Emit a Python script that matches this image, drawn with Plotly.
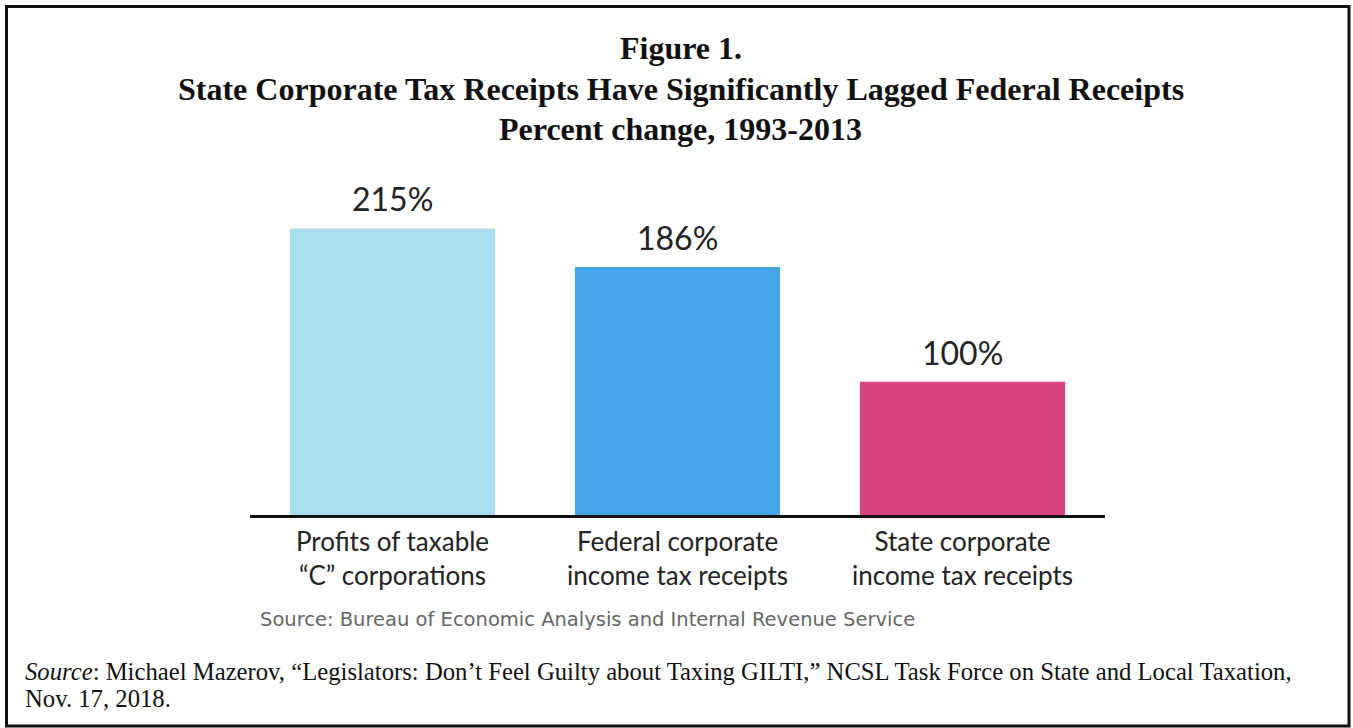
import plotly.graph_objects as go

categories = ["Profits of taxable<br>\u201cC\u201d corporations",
              "Federal corporate<br>income tax receipts",
              "State corporate<br>income tax receipts"]
values = [215, 186, 100]
value_labels = ["215%", "186%", "100%"]
bar_colors = ["#a9ddf1", "#47a6e8", "#d8437e"]

title_lines = ["Figure 1.",
               "State Corporate Tax Receipts Have Significantly Lagged Federal Receipts",
               "Percent change, 1993-2013"]
inner_source = "Source: Bureau of Economic Analysis and Internal Revenue Service"
outer_source_1 = ("<i>Source</i>: Michael Mazerov, \u201cLegislators: Don\u2019t Feel Guilty about Taxing GILTI,\u201d "
                  "NCSL Task Force on State and Local Taxation,")
outer_source_2 = "Nov. 17, 2018."

W, H = 1353, 728
L, R, T, B = 250, 248, 180, 213
PW, PH = W - L - R, H - T - B

def px(x):
    return (x - L) / PW

def py(y):
    return (H - B - y) / PH

fig = go.Figure()
fig.add_trace(go.Bar(
    x=categories, y=values, marker=dict(color=bar_colors, line=dict(width=0)),
    hoverinfo="skip", width=0.72,
))

annotations = []
for c, v, t in zip(categories, values, value_labels):
    annotations.append(dict(text=t, x=c, y=v, xref="x", yref="y", xanchor="center",
                            yanchor="bottom", yshift=8, showarrow=False,
                            font=dict(family="Lato", size=32, color="#222222")))
title_y = [48, 89, 129]
for line, yy in zip(title_lines, title_y):
    annotations.append(dict(text="<b>" + line + "</b>", x=px(W / 2 + 4), y=py(yy),
                            xref="paper", yref="paper", xanchor="center", yanchor="middle",
                            showarrow=False,
                            font=dict(family="Liberation Serif", size=32, color="#111111")))
annotations.append(dict(text=inner_source, x=px(258), y=py(619), xref="paper", yref="paper",
                        xanchor="left", yanchor="middle", showarrow=False,
                        font=dict(family="DejaVu Sans", size=19.5, color="#666666")))
annotations.append(dict(text=outer_source_1, x=px(23), y=py(671), xref="paper", yref="paper",
                        xanchor="left", yanchor="middle", showarrow=False,
                        font=dict(family="Liberation Serif", size=24.7, color="#111111")))
annotations.append(dict(text=outer_source_2, x=px(23), y=py(698), xref="paper", yref="paper",
                        xanchor="left", yanchor="middle", showarrow=False,
                        font=dict(family="Liberation Serif", size=24.7, color="#111111")))

shapes = [dict(type="rect", xref="paper", yref="paper",
               x0=px(6.5), x1=px(1349), y0=py(6.5), y1=py(726),
               line=dict(color="#111111", width=3), fillcolor="rgba(0,0,0,0)", layer="above")]

fig.update_layout(
    width=W, height=H,
    margin=dict(l=L, r=R, t=T, b=B, pad=0),
    paper_bgcolor="white", plot_bgcolor="white",
    showlegend=False,
    bargap=0.28,
    xaxis=dict(showline=True, linecolor="#111111", linewidth=3, showgrid=False,
               ticks="", ticklabelstandoff=2,
               tickfont=dict(family="Lato", size=26, color="#222222"), fixedrange=True),
    yaxis=dict(range=[0, PH / 1.333], visible=False, showgrid=False, zeroline=False, fixedrange=True),
    annotations=annotations,
    shapes=shapes,
)

fig.write_html("out.html", config={"displayModeBar": False})
